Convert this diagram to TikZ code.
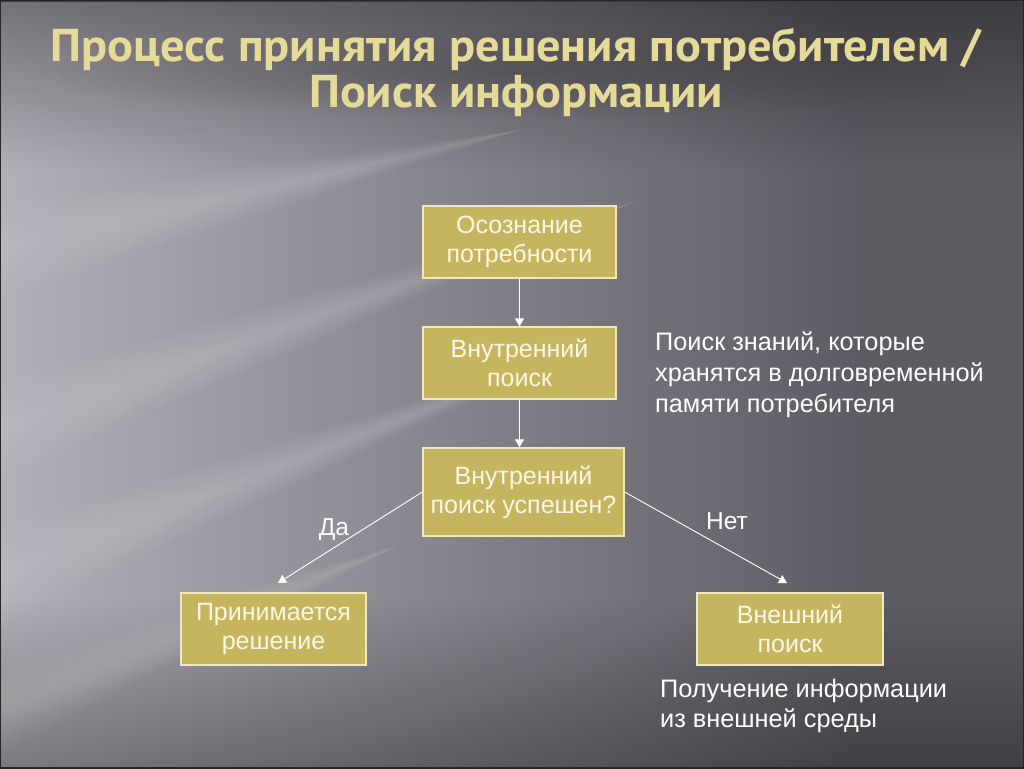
\documentclass[tikz,border=0pt]{standalone}
\usepackage{fontspec}
\setmainfont{Liberation Sans}
\newfontfamily\titlefont{PT Sans Bold}
\usetikzlibrary{arrows.meta,fadings}
\definecolor{bgbase}{HTML}{5E5C63}
\definecolor{bglight}{HTML}{B2B0B8}
\definecolor{boxfill}{HTML}{C6B55F}
\definecolor{boxline}{HTML}{F0E8C2}
\definecolor{boxtext}{HTML}{FAF6E4}
\definecolor{titlegold}{HTML}{E6DA98}
\definecolor{titleshadow}{HTML}{26252A}
\tikzfading[name=fadeR, left color=transparent!0, right color=transparent!100]
\tikzfading[name=fadeD, top color=transparent!0, bottom color=transparent!100]
\tikzfading[name=fadeU, top color=transparent!100, bottom color=transparent!0]
\tikzfading[name=softspot, inner color=transparent!30, outer color=transparent!100]
\newcommand\widetitle[1]{\scalebox{1.05}[1]{#1}}
\tikzset{
  stepbox/.style={draw=boxline, line width=1.3pt, fill=boxfill, text=boxtext,
    font=\fontsize{25}{29}\selectfont, align=center, inner sep=0pt},
  link/.style={draw=white, line width=0.9pt, -{Triangle[width=9pt,length=8pt]}},
  note/.style={text=white, font=\fontsize{25.3}{30}\selectfont, anchor=base west, inner sep=0pt},
  lbl/.style={text=white, font=\fontsize{24.5}{28}\selectfont, inner sep=0pt},
  ttl/.style={font=\titlefont\fontsize{46}{50}\selectfont, inner sep=0pt, text=titlegold, anchor=base}
}
\begin{document}
\begin{tikzpicture}[x=1pt,y=-1pt]
\useasboundingbox (0,0) rectangle (1024,768);
% background
\fill[bgbase] (0,0) rectangle (1024,768);
\fill[bglight, path fading=fadeR, fit fading=true] (0,0) rectangle (860,768);
\fill[black, opacity=0.35, path fading=fadeD, fit fading=true] (0,0) rectangle (1024,170);
\fill[black, opacity=0.3, path fading=fadeU, fit fading=true] (0,600) rectangle (1024,768);
\foreach \w in {6,12,...,48} {
  \fill[white, opacity=0.025] (0,250-\w) -- (520,130) -- (0,250+\w) -- cycle;
  \fill[white, opacity=0.025] (0,430-\w) -- (640,200) -- (0,430+\w) -- cycle;
  \fill[white, opacity=0.022] (0,575-\w) -- (580,350) -- (0,575+\w) -- cycle;
  \fill[white, opacity=0.02] (0,705-\w) -- (400,545) -- (0,705+\w) -- cycle;
}
\draw[black!85, line width=2pt] (0,0) rectangle (1024,768);
% title shadow (soft dark band behind the letters)
\fill[titleshadow, opacity=0.35, path fading=softspot, fit fading=true] (40,28) rectangle (1000,118);
% title
\node[ttl] (t1) at (516,62) {\widetitle{Процесс принятия решения потребителем /}};
\node[ttl] (t2) at (516,107) {\widetitle{Поиск информации}};
% boxes
\node[stepbox, minimum width=193pt, minimum height=72pt] (b1) at (519.5,242) {Осознание\\потребности};
\node[stepbox, minimum width=193pt, minimum height=72pt] (b2) at (519.5,363) {Внутренний\\поиск};
\node[stepbox, minimum width=201pt, minimum height=88pt] (b3) at (523.5,492) {Внутренний\\поиск успешен?};
\node[stepbox, minimum width=185pt, minimum height=72pt] (b4) at (273.5,629) {Принимается\\решение};
\node[stepbox, minimum width=186pt, minimum height=72pt] (b5) at (790,629) {Внешний\\поиск};
% connectors
\coordinate (e4) at (278,583);
\coordinate (e5) at (787,583);
\draw[link] (b1) -- (b2);
\draw[link] (b2.south) -- (b2.south |- b3.north);
\draw[link] (b3.west) -- (e4);
\draw[link] (b3.east) -- (e5);
\node[lbl] (da) at (334,530) {Да};
\node[lbl] (net) at (727,521) {Нет};
% notes
\node[note] (n1) at (655,350) {Поиск знаний, которые};
\node[note] (n2) at (655,381) {хранятся в долговременной};
\node[note] (n3) at (655,412) {памяти потребителя};
\node[note] (n4) at (660,697) {Получение информации};
\node[note] (n5) at (660,727) {из внешней среды};
\end{tikzpicture}
\end{document}
